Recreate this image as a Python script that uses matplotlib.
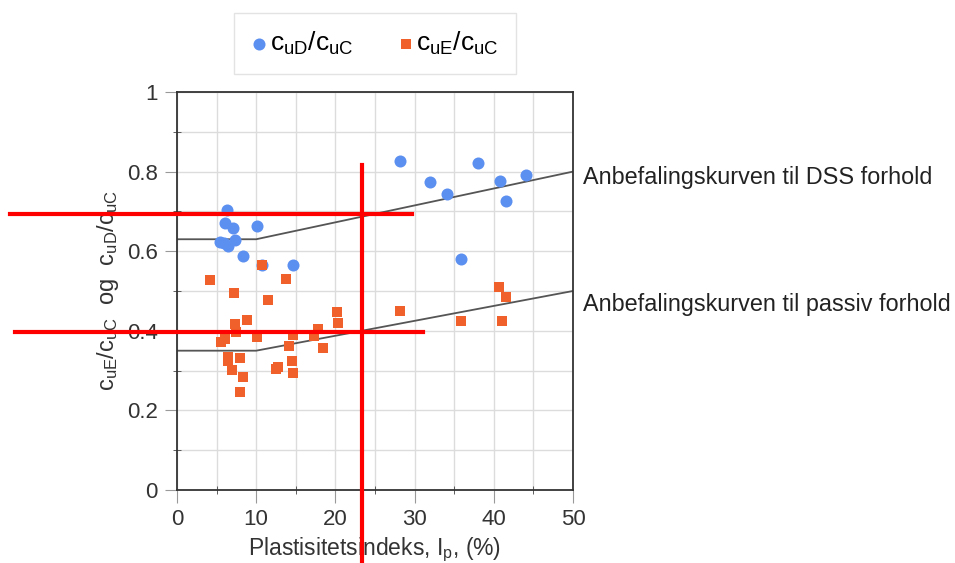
import numpy as np
import matplotlib.pyplot as plt
from matplotlib.ticker import MultipleLocator, FuncFormatter

plt.rcParams['font.family'] = ['Liberation Sans', 'DejaVu Sans']
plt.rcParams['mathtext.fontset'] = 'custom'
plt.rcParams['mathtext.rm'] = 'Liberation Sans'
plt.rcParams['mathtext.it'] = 'Liberation Sans'

# cuD/cuC (blue circles)
dss_ip = [6.3, 6.1, 7.1, 10.1, 5.4, 6.5, 7.3, 5.9, 8.3, 14.7, 10.7,
          28.1, 32.0, 34.1, 38.0, 40.8, 44.1, 41.5, 35.9]
dss_ratio = [0.703, 0.672, 0.659, 0.664, 0.624, 0.613, 0.628, 0.620, 0.589, 0.565, 0.566,
             0.827, 0.773, 0.744, 0.821, 0.777, 0.791, 0.727, 0.580]

# cuE/cuC (orange squares)
ext_ip = [4.2, 13.8, 7.2, 11.5, 20.2, 20.3, 8.8, 7.3, 7.4, 10.1, 6.1, 5.5,
          14.6, 17.8, 17.3, 14.1, 18.4, 6.4, 6.5, 7.9, 7.0, 8.4, 14.5, 14.7,
          12.7, 12.5, 7.9, 10.7, 40.7, 41.5, 28.1, 35.9, 41.0]
ext_ratio = [0.528, 0.530, 0.494, 0.477, 0.446, 0.419, 0.427, 0.416, 0.398, 0.385, 0.379, 0.371,
             0.389, 0.404, 0.387, 0.362, 0.356, 0.335, 0.324, 0.331, 0.302, 0.285, 0.324, 0.295,
             0.310, 0.303, 0.245, 0.566, 0.509, 0.486, 0.449, 0.425, 0.425]

# recommended curves
curve_ip = [0, 10, 50]
curve_dss = [0.63, 0.63, 0.80]
curve_passive = [0.35, 0.35, 0.50]

# red marker lines drawn over the figure
red_h_y = [0.693, 0.397]
red_h_x = [(-21.1, 29.7), (-20.5, 31.1)]
red_v_x = 23.4
red_v_y = (-0.185, 0.817)

fig = plt.figure(figsize=(9.55, 5.63), dpi=100)
ax = fig.add_axes([0.1853, 0.1297, 0.4147, 0.7069])

ax.set_xlim(0, 50)
ax.set_ylim(0, 1)
ax.xaxis.set_major_locator(MultipleLocator(10))
ax.xaxis.set_minor_locator(MultipleLocator(5))
ax.yaxis.set_major_locator(MultipleLocator(0.2))
ax.yaxis.set_minor_locator(MultipleLocator(0.1))
ax.yaxis.set_major_formatter(FuncFormatter(lambda v, p: '%g' % round(v, 2)))
ax.grid(True, which='both', color='#dcdcdc', lw=1)
ax.set_axisbelow(True)
for s in ax.spines.values():
    s.set_color('#333333')
    s.set_linewidth(1.3)
ax.tick_params(which='major', direction='out', length=9, color='#999999',
               labelsize=16, labelcolor='#333333', pad=5)
ax.tick_params(which='minor', direction='inout', length=6, color='#444444')

ax.plot(curve_ip, curve_dss, color='#555555', lw=1.3, zorder=2)
ax.plot(curve_ip, curve_passive, color='#555555', lw=1.3, zorder=2)

ax.scatter(dss_ip, dss_ratio, s=75, marker='o', color='#5b8ff0', lw=0,
           label=r'$\mathrm{c_{uD}/c_{uC}}$', zorder=3)
ax.scatter(ext_ip, ext_ratio, s=45, marker='s', color='#f0602a', lw=0,
           label=r'$\mathrm{c_{uE}/c_{uC}}$', zorder=3)

ax.text(51.3, 0.785, 'Anbefalingskurven til DSS forhold', fontsize=16.8,
        color='#222222', va='center', ha='left', clip_on=False)
ax.text(51.3, 0.467, 'Anbefalingskurven til passiv forhold', fontsize=16.8,
        color='#222222', va='center', ha='left', clip_on=False)

ax.set_xlabel(r'Plastisitetsindeks, I$_\mathrm{p}$, (%)', fontsize=16.5, color='#333333', labelpad=4)
ax.set_ylabel(r'$\mathrm{c_{uE}/c_{uC}}$  og  $\mathrm{c_{uD}/c_{uC}}$', fontsize=17,
              color='#333333', labelpad=4)

leg = ax.legend(loc='lower center', bbox_to_anchor=(0.5, 1.045), ncol=2, fontsize=19,
                frameon=True, fancybox=False, edgecolor='#dddddd', handletextpad=0.1,
                handlelength=0.6, columnspacing=1.7, borderpad=0.65, borderaxespad=0)

for y, (x0, x1) in zip(red_h_y, red_h_x):
    ax.plot([x0, x1], [y, y], color='red', lw=3, clip_on=False, zorder=5)
ax.plot([red_v_x, red_v_x], list(red_v_y), color='red', lw=3, clip_on=False, zorder=5)

fig.savefig('out.png', dpi=100)
